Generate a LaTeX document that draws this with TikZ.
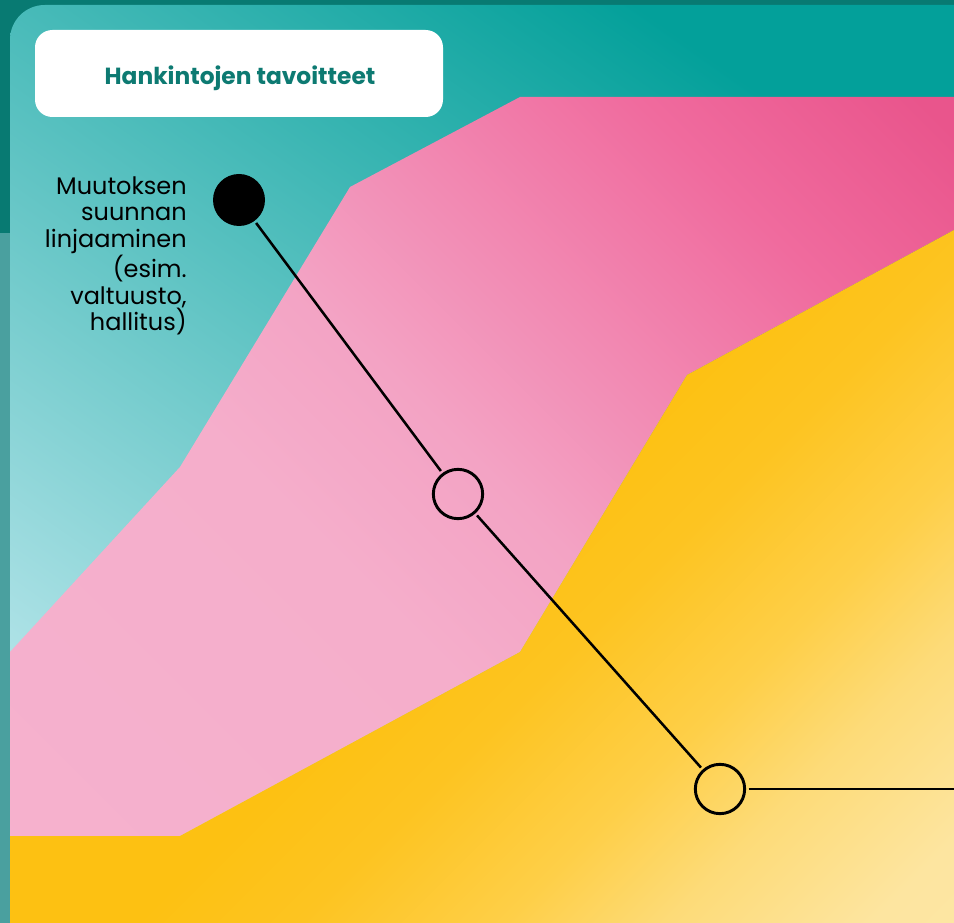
\documentclass[tikz,border=0pt]{standalone}
\usepackage{fontspec}
\setmainfont{Poppins}
\usetikzlibrary{positioning,calc}

\definecolor{tealdark}{HTML}{087A72}
\definecolor{tealside}{HTML}{4AA09F}
\definecolor{tealtop}{HTML}{03A09A}
\definecolor{tealmid}{HTML}{5CC6C4}
\definecolor{teallight}{HTML}{B6E5EA}
\definecolor{titleteal}{HTML}{0D7A72}
\definecolor{pinkA}{HTML}{F6B3CF}
\definecolor{pinkB}{HTML}{F5AECB}
\definecolor{pinkC}{HTML}{F3A3C4}
\definecolor{pinkD}{HTML}{F28AB3}
\definecolor{pinkE}{HTML}{F06B9E}
\definecolor{pinkF}{HTML}{E9558C}
\definecolor{yellowA}{HTML}{FDC010}
\definecolor{yellowB}{HTML}{FDC112}
\definecolor{yellowC}{HTML}{FDC421}
\definecolor{yellowD}{HTML}{FECF48}
\definecolor{yellowE}{HTML}{FDDB78}
\definecolor{yellowF}{HTML}{FDE5A0}
\definecolor{yellowG}{HTML}{FDE9AC}

% band shadings, run along the band from one corner to the other
\pgfdeclarehorizontalshading{pinkband}{100bp}{
  color(0bp)=(pinkA); color(40bp)=(pinkB); color(50bp)=(pinkC);
  color(60bp)=(pinkD); color(72bp)=(pinkE); color(84bp)=(pinkF);
  color(100bp)=(pinkF)}
\pgfdeclarehorizontalshading{yellowband}{100bp}{
  color(0bp)=(yellowA); color(50bp)=(yellowB); color(57bp)=(yellowC);
  color(66bp)=(yellowD); color(73bp)=(yellowE); color(82bp)=(yellowF);
  color(100bp)=(yellowG)}

\begin{document}
\begin{tikzpicture}[
  x=0.75pt,y=-0.75pt,
  link/.style={line width=1.9pt,black},
  stage/.style={circle,draw=black,line width=2.2pt,minimum size=37pt,inner sep=0pt,outer sep=3pt},
  start/.style={circle,fill=black,minimum size=39pt,inner sep=0pt,outer sep=2pt},
  title/.style={font=\fontsize{17.5}{20}\selectfont\bfseries,text=titleteal,anchor=base,inner sep=0pt},
  label/.style={align=right,font=\fontsize{18}{20}\selectfont,anchor=north east,inner sep=0pt},
]
\useasboundingbox (0,0) rectangle (954,923);

% page behind the panel
\fill[tealside] (0,0) rectangle (954,923);
\fill[tealdark] (0,0) -- (954,0) -- (954,233) -- (0,233) -- cycle;

% panel with the two bands
\begin{scope}
  \clip[rounded corners=26pt] (10,5) rectangle (1010,980);
  \shade[top color=tealtop,middle color=tealmid,bottom color=teallight,shading angle=-35]
    (10,5) rectangle (954,923);
  \shade[shading=pinkband,shading angle=45]
    (10,652) -- (180,467) -- (350,187) -- (520,97) -- (954,97) -- (954,230)
    -- (687,375) -- (520,652) -- (180,836) -- (10,836) -- cycle;
  \shade[shading=yellowband,shading angle=-45]
    (10,836) -- (180,836) -- (520,652) -- (687,375) -- (954,230) -- (954,923) -- (10,923) -- cycle;
\end{scope}

% heading
\fill[white,rounded corners=13pt] (35,30) rectangle (443,117);
\node[title] (heading) at (240,85) {Hankintojen tavoitteet};

% path of stages
\node[start] (s1) at (239,200) {};
\node[stage] (s2) at (458,494) {};
\node[stage] (s3) at (720,789) {};
\coordinate (s4) at (954,789);

\node[label] (s1text) at (187,176) {Muutoksen\\suunnan\\linjaaminen\\(esim.\\valtuusto,\\hallitus)};

\draw[link] (s1) -- (s2);
\draw[link] (s2) -- (s3);
\draw[link] (s3) -- (s4);

\end{tikzpicture}
\end{document}
